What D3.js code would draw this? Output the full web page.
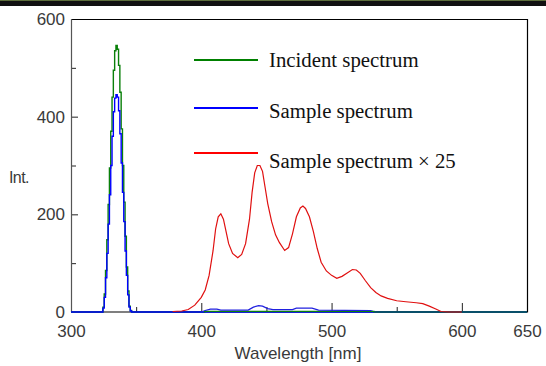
<!DOCTYPE html>
<html>
<head>
<meta charset="utf-8">
<script src="https://cdn.jsdelivr.net/npm/d3@7"></script>
<style>
  body { margin: 0; background: #fff; }
  svg { display: block; }
</style>
</head>
<body>
<script>
const WIDTH  = 546;
const HEIGHT = 366;
const LEFT   = 71;
const RIGHT  = 527;
const TOP    = 19;
const BOTTOM = 312;

// Incident spectrum (green)
const incidentNm  = [300, 324, 325, 326, 327, 328, 329, 330, 331, 332, 333, 334, 335, 336, 337, 338, 339, 340, 341, 342, 343, 344, 345, 346, 347, 402, 403, 532, 533, 650];
const incidentInt = [0, 0, 10, 37, 85, 148, 220, 295, 370, 440, 495, 535, 546, 538, 505, 450, 375, 300, 225, 155, 92, 43, 12, 3, 0, 0, 1, 1, 0, 0];

// Sample spectrum (blue)
const sampleNm  = [300, 324, 325, 326, 327, 328, 329, 330, 331, 332, 333, 334, 335, 336, 337, 338, 339, 340, 341, 342, 343, 344, 345, 346, 347, 650];
const sampleInt = [0, 0, 8, 30, 70, 120, 180, 240, 300, 360, 410, 438, 445, 440, 412, 365, 305, 245, 185, 125, 75, 35, 10, 2, 0, 0];

// weak emission part of the sample spectrum (blue)
const emissionNm  = [400, 403, 407, 412, 415, 436, 440, 444, 447, 451, 455, 470, 473, 485, 490, 530, 533];
const emissionInt = [0, 3, 6, 6, 4, 4, 10, 13, 12, 7, 5, 5, 8, 8, 4, 3, 0];

// Sample spectrum x 25 (red)
const scaledNm  = [378, 385, 390, 395, 400, 403, 406, 409, 411, 413, 415, 417, 419, 421, 424, 428, 431, 434, 437, 439, 441, 443, 445, 447, 449, 451, 454, 457, 460, 464, 467, 470, 473, 476, 478, 480, 483, 486, 489, 492, 496, 500, 504, 508, 512, 516, 519, 522, 526, 530, 534, 538, 543, 550, 557, 565, 570, 575, 580, 584, 590, 600];
const scaledInt = [1, 2, 5, 14, 30, 45, 75, 125, 170, 195, 201, 190, 165, 140, 120, 111, 118, 140, 190, 245, 285, 300, 300, 288, 255, 222, 185, 158, 142, 126, 132, 160, 195, 213, 217, 212, 195, 165, 130, 102, 84, 75, 69, 73, 80, 87, 86, 79, 64, 50, 40, 33, 28, 23, 21, 19, 17, 12, 6, 1, 0, 0];

const xLabelTicks = [300, 400, 500, 600, 650];
const xMajorTicks = [400, 500, 600];
const xMinorTicks = [350, 450, 550];
const yLabelTicks = [0, 200, 400, 600];
const yMajorTicks = [200, 400];
const yMinorTicks = [100, 300, 500];

const legendNames  = ["Incident spectrum", "Sample spectrum", "Sample spectrum \u00d7 25"];
const legendColors = ["#008000", "#0000ff", "#ff0000"];

function setUpChart() {
  const svg = d3.select("body").append("svg")
      .attr("width", WIDTH)
      .attr("height", HEIGHT);

  // dark band at the very top of the picture
  svg.append("rect").attr("x", 0).attr("y", 0).attr("width", WIDTH).attr("height", 6).attr("fill", "#111");
  svg.append("rect").attr("x", 0).attr("y", 0).attr("width", WIDTH).attr("height", 1).attr("fill", "#5d6e3c");
  return svg;
}

function addAxis(svg, x, y) {
  const font = "'Liberation Sans', Arial, sans-serif";

  // labels
  svg.append("g")
      .attr("transform", "translate(0," + BOTTOM + ")")
      .call(d3.axisBottom(x).tickValues(xLabelTicks).tickSize(0).tickPadding(13))
      .call(g => g.select(".domain").remove())
      .selectAll("text")
        .style("font-family", font).style("font-size", "17px").attr("fill", "#3a3a3a");

  svg.append("g")
      .attr("transform", "translate(" + LEFT + ",0)")
      .call(d3.axisLeft(y).tickValues(yLabelTicks).tickSize(0).tickPadding(6))
      .call(g => g.select(".domain").remove())
      .selectAll("text")
        .style("font-family", font).style("font-size", "17px").attr("fill", "#3a3a3a");

  // inward ticks
  const tick = (axis, transform) => svg.append("g")
      .attr("transform", transform)
      .call(axis.tickFormat(""))
      .call(g => g.select(".domain").remove())
      .selectAll("line").attr("stroke", "#222");

  tick(d3.axisBottom(x).tickValues(xMajorTicks).tickSize(-9), "translate(0," + BOTTOM + ")");
  tick(d3.axisBottom(x).tickValues(xMinorTicks).tickSize(-5), "translate(0," + BOTTOM + ")");
  tick(d3.axisLeft(y).tickValues(yMajorTicks).tickSize(-7), "translate(" + LEFT + ",0)");
  tick(d3.axisLeft(y).tickValues(yMinorTicks).tickSize(-5), "translate(" + LEFT + ",0)");

  // frame
  svg.append("path")
      .attr("d", `M${LEFT},${TOP + 0.5}H${RIGHT + 0.5}V${BOTTOM}H${LEFT}`)
      .attr("fill", "none").attr("stroke", "#000").attr("stroke-width", 1.2);
  svg.append("line")
      .attr("x1", LEFT + 0.5).attr("x2", LEFT + 0.5).attr("y1", TOP).attr("y2", BOTTOM)
      .attr("stroke", "#555").attr("stroke-width", 1.2);

  svg.append("text")
      .attr("x", 298).attr("y", 359)
      .attr("text-anchor", "middle")
      .style("font-family", font).style("font-size", "17px").attr("fill", "#3a3a3a")
      .text("Wavelength [nm]");

  svg.append("text")
      .attr("x", 9).attr("y", 183)
      .style("font-family", font).style("font-size", "16px").style("letter-spacing", "-0.6px").attr("fill", "#3a3a3a")
      .text("Int.");
}

function drawLine(svg, xs, ys, x, y, color, curve, width) {
  const pts = xs.map((d, i) => [d, ys[i]]);
  const line = d3.line().x(d => x(d[0])).y(d => y(d[1])).curve(curve);
  svg.append("path")
      .datum(pts)
      .attr("d", line)
      .attr("fill", "none")
      .attr("stroke", color)
      .attr("stroke-width", width);
}

function drawLegend(svg) {
  const baselines = [67, 118, 168];
  const lineYs    = [60, 108, 153];
  legendNames.forEach((name, i) => {
    svg.append("line")
        .attr("x1", 194).attr("x2", 258)
        .attr("y1", lineYs[i]).attr("y2", lineYs[i])
        .attr("stroke", legendColors[i]).attr("stroke-width", 2);
    svg.append("text")
        .attr("x", 269).attr("y", baselines[i])
        .style("font-family", "'Liberation Serif', 'Times New Roman', serif")
        .style("font-size", "20.8px").attr("fill", "#111")
        .text(name);
  });
}

const svg = setUpChart();
const x = d3.scaleLinear().domain([300, 650]).range([LEFT, RIGHT]);
const y = d3.scaleLinear().domain([0, 600]).range([BOTTOM, TOP]);

addAxis(svg, x, y);
drawLine(svg, incidentNm, incidentInt, x, y, "#0a800a", d3.curveStep, 1.4);
drawLine(svg, sampleNm, sampleInt, x, y, "#0000ff", d3.curveStep, 1.4);
drawLine(svg, emissionNm, emissionInt, x, y, "#2020e0", d3.curveLinear, 1.2);
// low part of the incident spectrum shows above the blue base line
drawLine(svg, incidentNm.slice(25), incidentInt.slice(25), x, y, "#0a800a", d3.curveStep, 1.2);
drawLine(svg, scaledNm, scaledInt, x, y, "#e01010", d3.curveLinear, 1.2);
drawLegend(svg);
</script>
</body>
</html>
